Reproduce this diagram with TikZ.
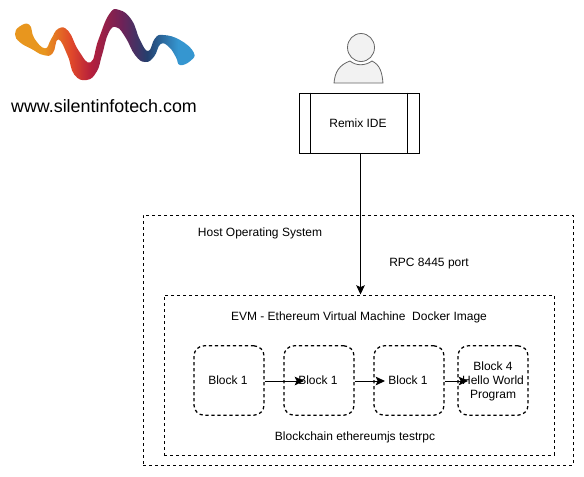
\documentclass[tikz,border=0pt]{standalone}
\usepackage{fontspec}
\setmainfont{Liberation Sans}
\usetikzlibrary{arrows.meta,calc}
\definecolor{logoA}{HTML}{E8961E}
\definecolor{logoB}{HTML}{E0482A}
\definecolor{logoC}{HTML}{B51F3C}
\definecolor{logoD}{HTML}{6E2258}
\definecolor{logoE}{HTML}{243F6E}
\definecolor{logoF}{HTML}{3596D0}
\pgfdeclarehorizontalshading{logoshadeb}{100bp}{
 color(0bp)=(logoA); color(33bp)=(logoA); color(40.5bp)=(logoB); color(46bp)=(logoC); color(54.5bp)=(logoD); color(61.5bp)=(logoE); color(70bp)=(logoF); color(100bp)=(logoF)
}
\tikzset{
 px/.style={x=0.75pt,y=-0.75pt},
 lbl/.style={font=\fontsize{9pt}{10.5pt}\selectfont,align=center,text=black,inner sep=0pt},
 dbox/.style={draw=black,line width=0.75pt,dash pattern=on 2.25pt off 2.25pt},
 rblock/.style={draw=black,line width=0.95pt,dash pattern=on 2.4pt off 2.1pt,rounded corners=7.5pt},
 conn/.style={draw=black,line width=0.75pt,-{Stealth[length=7pt,width=6.5pt,inset=1.5pt]}}
}
\begin{document}
\begin{tikzpicture}[px]
\useasboundingbox (0,0) rectangle (584,476);
\fill[white] (0,0) rectangle (584,476);
% logo
\begin{scope}[x=0.25pt,y=-0.25pt]
\shade[shading=logoshadeb] plot[smooth cycle,tension=0.8] coordinates {
(45,103)(58,80)(88,74)(103,115)(135,145)(153,118)(175,86)(205,93)(236,152)(272,187)(295,120)(328,42)(358,30)(395,60)(420,120)(445,153)(465,115)(490,105)(540,120)(581,157)(572,182)(540,195)(528,172)(508,142)(482,132)(462,170)(435,186)(405,165)(377,113)(350,82)(326,98)(306,165)(290,215)(260,240)(223,224)(203,167)(175,118)(158,160)(130,165)(95,147)(60,127)};
\end{scope}
\node[lbl,font=\fontsize{13.4pt}{16pt}\selectfont] (url) at (104,106) {www.silentinfotech.com};
% person
\draw[fill=black!5,draw=black!60,line width=0.6pt] (334,83) .. controls (335,72) and (339,65) .. (350,61) .. controls (356,66) and (365,66) .. (372,61) .. controls (380,65) and (382,72) .. (383,83) -- cycle;
\draw[fill=black!5,draw=black!60,line width=0.6pt] (361,47.5) ellipse (13.5 and 14);
% remix
\node[draw=black,line width=0.75pt,minimum width=90pt,minimum height=45pt,inner sep=0pt,lbl] (remix) at (359,123) {};
\draw[line width=0.75pt] ([xshift=9pt]remix.north west) -- ([xshift=9pt]remix.south west);
\draw[line width=0.75pt] ([xshift=-9pt]remix.north east) -- ([xshift=-9pt]remix.south east);
\node[lbl] (remixl) at (358,123) {Remix IDE};
% containers
\node[dbox,minimum width=322.5pt,minimum height=187.5pt,inner sep=0pt] (host) at (358,340) {};
\node[dbox,minimum width=292.5pt,minimum height=120pt,inner sep=0pt] (evm) at (359,375) {};
\node[lbl] (hostl) at (260,233) {Host Operating System};
\node[lbl] (rpc) at (429,263.5) {RPC 8445 port};
\node[lbl] (evml) at (359,317) {EVM - Ethereum Virtual Machine\ \ Docker Image};
\node[lbl] (chain) at (355,437) {Blockchain ethereumjs testrpc};
% blocks
\node[rblock,minimum width=52.5pt,minimum height=52pt,inner sep=0pt] (b1) at (229,380.5) {};
\node[rblock,minimum width=52.5pt,minimum height=52pt,inner sep=0pt] (b2) at (319,380.5) {};
\node[rblock,minimum width=52.5pt,minimum height=52pt,inner sep=0pt] (b3) at (409,380.5) {};
\node[rblock,minimum width=52.5pt,minimum height=52pt,inner sep=0pt] (b4) at (493,380.5) {};
\node[lbl] (b1l) at (228,380.5) {Block 1};
\node[lbl] (b2l) at (318,380.5) {Block 1};
\node[lbl] (b3l) at (408,380.5) {Block 1};
\node[lbl] (b4l) at (493,381) {Block 4\\Hello World\\Program};
% connectors
\coordinate (t1) at (304,381);
\coordinate (t2) at (385,381);
\coordinate (t3) at (468,381);
\coordinate (rx) at (360.5,0);
\draw[conn] (b1.east |- t1) -- (t1);
\draw[conn] (b2.east |- t2) -- (t2);
\draw[conn] (b3.east |- t3) -- (t3);
\draw[conn] (remix.south -| rx) -- (evm.north -| rx);
\end{tikzpicture}
\end{document}
